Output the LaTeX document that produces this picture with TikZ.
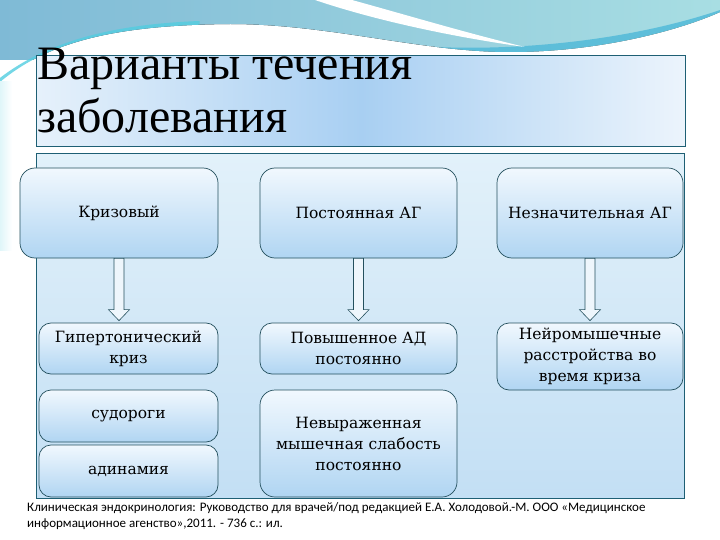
\documentclass[tikz,border=0pt]{standalone}
\usepackage{fontspec}
\setmainfont{DejaVu Serif}
\newfontfamily\titlefont{Liberation Serif}
\newfontfamily\notefont{Carlito}
\usetikzlibrary{calc}
\definecolor{edgec}{HTML}{24505E}
\definecolor{frame}{HTML}{1E5F74}
\definecolor{topblue}{HTML}{7FBAD6}
\definecolor{topcyan}{HTML}{A8DEE3}
\definecolor{bandteal}{HTML}{4DB8D8}
\definecolor{leftcyan}{HTML}{52CDE0}
\definecolor{boxtop}{HTML}{F1F8FE}
\definecolor{boxbot}{HTML}{B0D5F2}
\definecolor{maintop}{HTML}{E2F1FA}
\definecolor{mainbot}{HTML}{C3DFF4}
\definecolor{titleL}{HTML}{E6F1FB}
\definecolor{titleM}{HTML}{A8CFF2}
\definecolor{titleR}{HTML}{ECF4FC}
\definecolor{arrowfill}{HTML}{EEF6FC}
\tikzset{
  boxtext/.style={font=\fontsize{15.5}{21}\selectfont, text=black, align=center},
  bigbox/.style={boxtext, draw=edgec, line width=0.7pt, rounded corners=15pt,
    top color=boxtop, bottom color=boxbot, minimum width=198pt, minimum height=90pt, inner sep=0pt},
  smallbox/.style={boxtext, draw=edgec, line width=0.7pt, rounded corners=12pt,
    top color=boxtop, bottom color=boxbot, inner sep=0pt},
  barrow/.style={draw=edgec, line width=0.6pt, fill=arrowfill},
  notetext/.style={font=\notefont\fontsize{13}{16}\selectfont, anchor=base west, inner sep=0pt},
  titletext/.style={font=\titlefont\fontsize{48}{53}\selectfont, anchor=base west, inner sep=0pt}
}
\newcommand{\blockarrow}[2]{%
  \draw[barrow] ($(#1.south)+(-5,0)$) -- ($(#1.south |- #2.north)+(-5,-13)$) -- ($(#1.south |- #2.north)+(-10.5,-13)$)
    -- ($(#1.south |- #2.north)+(0,-2)$) -- ($(#1.south |- #2.north)+(10.5,-13)$) -- ($(#1.south |- #2.north)+(5,-13)$)
    -- ($(#1.south)+(5,0)$) -- cycle;}
\begin{document}
\begin{tikzpicture}[x=1pt,y=-1pt]
\useasboundingbox (0,0) rectangle (720,540);
\fill[white] (0,0) rectangle (720,540);
% top decoration
\begin{scope}
\clip (0,0) -- (720,0) -- (720,12) .. controls (680,30) and (600,52) .. (510,52)
   .. controls (420,52) and (330,24) .. (230,24) .. controls (120,25) and (50,40) .. (0,82) -- cycle;
\fill[left color=topblue, right color=topcyan] (0,0) rectangle (720,60);
\draw[leftcyan, line width=22pt, opacity=0.8] (0,92) .. controls (50,50) and (120,35) .. (200,32);
\draw[bandteal, line width=14pt, opacity=0.8] (380,48) .. controls (440,60) and (600,60) .. (730,14);
\fill[white] (315,0) -- (352,0) .. controls (410,16) and (470,34) .. (525,47)
   .. controls (460,38) and (380,22) .. (315,0) -- cycle;
\end{scope}
\fill[left color=leftcyan!18, right color=white] (0,82) rectangle (12,250);
% title box
\node[draw=frame, line width=0.8pt, left color=titleL, right color=titleR, middle color=titleM,
  minimum width=649pt, minimum height=91pt, inner sep=0pt, anchor=north west] (titlebox) at (36,55) {};
\node[titletext] (title1) at (37,80) {Варианты течения};
\node[titletext] (title2) at (37,133) {заболевания};
% main box
\node[draw=frame, line width=0.8pt, top color=maintop, bottom color=mainbot,
  minimum width=648pt, minimum height=345pt, inner sep=0pt, anchor=north west] (mainbox) at (36,153) {};
% boxes
\node[bigbox] (k1) at (119,213) {Кризовый};
\node[bigbox, minimum width=197pt] (k2) at (358.5,213) {Постоянная АГ};
\node[bigbox, minimum width=186pt] (k3) at (590,213) {Незначительная АГ};
\node[smallbox, minimum width=179pt, minimum height=51pt] (g1) at (128.5,348.5) {Гипертонический\\криз};
\node[smallbox, minimum width=197pt, minimum height=51pt] (g2) at (358.5,348.5) {Повышенное АД\\постоянно};
\node[smallbox, minimum width=186pt, minimum height=67pt] (g3) at (590,356.5) {Нейромышечные\\расстройства во\\время криза};
\node[smallbox, minimum width=179pt, minimum height=52pt] (s1) at (128.5,416) {судороги};
\node[smallbox, minimum width=179pt, minimum height=52pt] (s2) at (128.5,471) {адинамия};
\node[bigbox, minimum width=197pt, minimum height=107pt] (n2) at (358.5,443.5) {Невыраженная\\мышечная слабость\\постоянно};
% arrows
\blockarrow{k1}{g1}
\blockarrow{k2}{g2}
\blockarrow{k3}{g3}
% reference
\node[notetext] (ref1) at (27,511) {Клиническая эндокринология: Руководство для врачей/под редакцией Е.А. Холодовой.-М. ООО «Медицинское};
\node[notetext] (ref2) at (27,527) {информационное агенство»,2011. - 736 с.: ил.};
\end{tikzpicture}
\end{document}
